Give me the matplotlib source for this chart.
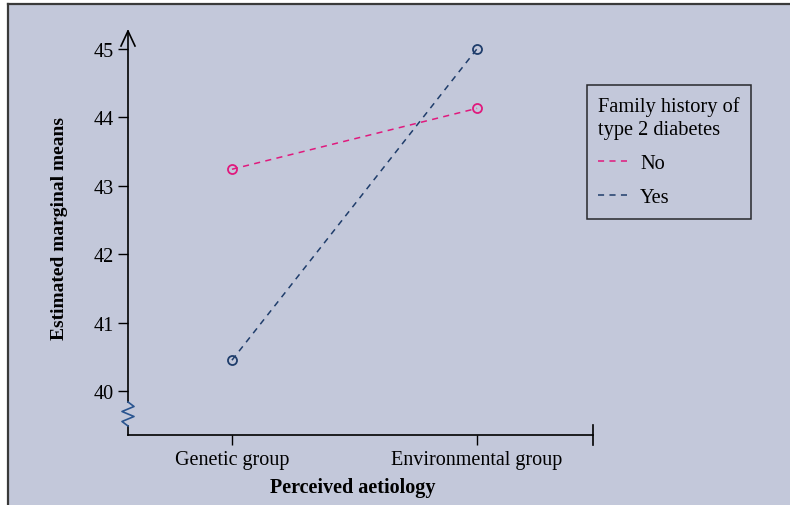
import matplotlib
matplotlib.use("Agg")
import matplotlib.pyplot as plt
from matplotlib.lines import Line2D
from matplotlib.patches import Rectangle

# ---- data ----
groups = ['Genetic group', 'Environmental group']
no_history = [43.24, 44.13]
yes_history = [40.45, 45.0]
yticks = [40, 41, 42, 43, 44, 45]
series_labels = ['No', 'Yes']
legend_title = 'Family history of\ntype 2 diabetes'

# ---- style ----
W, H = 790, 506
bg = '#c3c8da'
pink = '#e0197d'
blue = '#1f3d6b'
zig = '#2a5590'
plt.rcParams['font.family'] = ['Liberation Serif', 'DejaVu Serif']

fig = plt.figure(figsize=(W / 100, H / 100), dpi=100, facecolor='white')
fig.add_artist(Rectangle((8 / W, 0), 1 - 8 / W, 1 - 5 / H, transform=fig.transFigure,
                         facecolor=bg, edgecolor='none', zorder=-10))
fig.add_artist(Line2D([8 / W, 8 / W], [0, 1 - 5 / H], color='#3a3a3a', lw=1.6, zorder=-5))
fig.add_artist(Line2D([8 / W, 1], [1 - 5 / H, 1 - 5 / H], color='#3a3a3a', lw=1.6, zorder=-5))

ax_l, ax_r, ax_t, ax_b = 128, 593, 32, 436
aw, ah = ax_r - ax_l, ax_b - ax_t
ax = fig.add_axes([ax_l / W, 1 - ax_b / H, aw / W, ah / H])
ax.set_facecolor('none')

x = list(range(len(groups)))
ax.plot(x, no_history, color=pink, ls=(0, (4, 3.5)), lw=1.1, marker='o', ms=6.5,
        mfc='none', mec=pink, mew=1.3, label=series_labels[0], clip_on=False)
ax.plot(x, yes_history, color=blue, ls=(0, (4, 3.5)), lw=1.1, marker='o', ms=6.5,
        mfc='none', mec=blue, mew=1.3, label=series_labels[1], clip_on=False)

ax.set_xlim(-0.424, 1.473)
ax.set_ylim(39.357, 45.26)
ax.set_xticks(x)
ax.set_xticklabels(groups)
ax.set_yticks(yticks)
ax.tick_params(axis='both', direction='out', length=7.5, width=1, colors='black',
               labelsize=14.5, pad=3)
for s in ['left', 'top', 'right']:
    ax.spines[s].set_visible(False)
ax.spines['bottom'].set_linewidth(1.2)

ybreak_top = 1 - (403 - ax_t) / ah
ybreak_bot = 1 - (427 - ax_t) / ah
tr = ax.transAxes
ax.plot([0, 0], [ybreak_top, 1], color='black', lw=1.2, transform=tr, clip_on=False)
ax.plot([0, 0], [0, ybreak_bot], color='black', lw=1.2, transform=tr, clip_on=False)
zx = [0, 6, -6, 6, -6, 0]
zy = [0, 4.5, 9.5, 14.5, 19.5, 24]
ax.plot([v / aw for v in zx], [ybreak_top - v / ah for v in zy], color=zig, lw=1.2,
        transform=tr, clip_on=False)
ax.plot([-7 / aw, 0, 7 / aw], [1 - 15 / ah, 1, 1 - 15 / ah], color='black', lw=1.2,
        transform=tr, clip_on=False)
ax.plot([1, 1], [10 / ah, -10 / ah], color='black', lw=1.2, transform=tr, clip_on=False)

ax.set_xlabel('Perceived aetiology', fontsize=14.5, fontweight='bold')
ax.xaxis.set_label_coords((353 - ax_l) / aw, -(488 - ax_b) / ah)
ax.xaxis.label.set_va('center')
ax.set_ylabel('Estimated marginal means', fontsize=14, fontweight='bold')
ax.yaxis.set_label_coords(-(ax_l - 60) / aw, (ax_b - 228) / ah)
ax.yaxis.label.set_va('center')

leg = ax.legend(title=legend_title, loc='upper left',
                bbox_to_anchor=(587 / W, 1 - 86 / H), bbox_transform=fig.transFigure,
                frameon=True, fancybox=False, edgecolor='black', facecolor='none',
                fontsize=14.7, title_fontsize=14.7, handlelength=1.42, handletextpad=0.64,
                labelspacing=0.72, borderpad=0.55, borderaxespad=0, alignment='left')
leg.get_frame().set_linewidth(1.1)
leg.get_title().set_linespacing(1.3)
for h in leg.legend_handles:
    h.set_marker('')

fig.savefig('out.png', dpi=100, facecolor=fig.get_facecolor())
